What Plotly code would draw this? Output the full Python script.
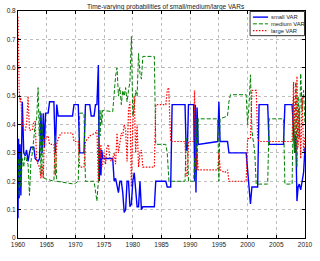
import plotly.graph_objects as go

# ---- data (decimal year, probability) ----
small_pts = [
    (1960.0, 0.07), (1960.1, 0.35), (1960.2, 0.14), (1960.35, 0.33), (1960.5, 0.15),
    (1960.6, 0.30), (1960.75, 0.48), (1961.0, 0.30), (1961.25, 0.29), (1961.5, 0.31),
    (1961.75, 0.27), (1962.0, 0.30), (1962.25, 0.32), (1962.75, 0.32), (1963.0, 0.28),
    (1963.5, 0.27), (1963.75, 0.28), (1964.0, 0.44), (1964.2, 0.30), (1964.4, 0.44),
    (1964.6, 0.32), (1964.8, 0.44), (1965.25, 0.44), (1965.5, 0.48), (1966.25, 0.48),
    (1966.5, 0.30), (1966.75, 0.47), (1967.0, 0.43), (1969.5, 0.43), (1969.75, 0.47),
    (1970.5, 0.47), (1970.75, 0.30), (1971.5, 0.30), (1971.75, 0.47), (1972.5, 0.47),
    (1972.75, 0.43), (1973.25, 0.43), (1973.5, 0.47), (1973.75, 0.47), (1974.0, 0.61),
    (1974.15, 0.20), (1974.3, 0.31), (1974.45, 0.22), (1974.6, 0.31), (1974.75, 0.28),
    (1976.5, 0.28), (1976.75, 0.20), (1977.0, 0.21), (1977.25, 0.19), (1977.5, 0.16),
    (1977.75, 0.20), (1978.0, 0.20), (1978.25, 0.16), (1978.5, 0.09), (1978.75, 0.10),
    (1979.0, 0.20), (1979.25, 0.20), (1979.5, 0.11), (1979.75, 0.12), (1980.0, 0.20),
    (1980.25, 0.23), (1980.5, 0.16), (1980.75, 0.11), (1981.0, 0.11), (1981.25, 0.20),
    (1981.5, 0.10), (1981.75, 0.11), (1983.75, 0.11), (1984.0, 0.20), (1985.75, 0.20),
    (1986.0, 0.18), (1986.6, 0.18), (1986.85, 0.47), (1989.1, 0.47), (1989.3, 0.31),
    (1989.5, 0.31), (1989.7, 0.47), (1990.6, 0.47), (1990.8, 0.20), (1990.9, 0.47),
    (1991.0, 0.16), (1991.2, 0.46), (1991.4, 0.33), (1994.8, 0.34), (1995.0, 0.48),
    (1995.2, 0.34), (1996.5, 0.34), (1996.75, 0.30), (1999.75, 0.30), (2000.0, 0.24),
    (2000.25, 0.18), (2000.5, 0.12), (2000.75, 0.18), (2001.75, 0.18), (2002.0, 0.47),
    (2003.5, 0.47), (2003.75, 0.33), (2006.25, 0.33), (2006.5, 0.47), (2007.75, 0.47),
    (2008.0, 0.38), (2008.2, 0.30), (2008.4, 0.36), (2008.6, 0.13), (2008.8, 0.18),
    (2009.0, 0.19), (2009.25, 0.17), (2009.5, 0.20), (2009.75, 0.23), (2010.0, 0.32),
]

medium_pts = [
    (1960.0, 0.20), (1960.1, 0.28), (1960.2, 0.15), (1960.35, 0.30), (1960.5, 0.18),
    (1960.75, 0.28), (1961.0, 0.25), (1961.25, 0.30), (1961.5, 0.27), (1961.75, 0.26),
    (1962.0, 0.15), (1962.25, 0.27), (1962.5, 0.30), (1962.75, 0.35), (1963.0, 0.40),
    (1963.25, 0.42), (1963.5, 0.53), (1963.7, 0.36), (1963.85, 0.45), (1964.0, 0.22),
    (1964.2, 0.40), (1964.4, 0.22), (1964.6, 0.21), (1966.25, 0.20), (1966.5, 0.36),
    (1966.75, 0.20), (1969.75, 0.19), (1970.5, 0.20), (1970.75, 0.44), (1971.5, 0.44),
    (1971.75, 0.20), (1973.25, 0.20), (1973.5, 0.16), (1973.75, 0.13), (1974.0, 0.20),
    (1974.15, 0.45), (1974.3, 0.36), (1974.45, 0.45), (1974.6, 0.40), (1974.75, 0.45),
    (1976.5, 0.445), (1976.75, 0.52), (1977.0, 0.57), (1977.25, 0.60), (1977.5, 0.50),
    (1977.75, 0.53), (1978.0, 0.47), (1978.25, 0.52), (1978.5, 0.50), (1978.75, 0.53),
    (1979.0, 0.48), (1979.25, 0.52), (1979.5, 0.55), (1979.75, 0.71), (1980.0, 0.43),
    (1980.25, 0.46), (1980.5, 0.52), (1980.75, 0.50), (1981.0, 0.65), (1981.25, 0.58),
    (1981.5, 0.56), (1981.75, 0.64), (1983.75, 0.64), (1984.0, 0.33), (1985.75, 0.33),
    (1986.0, 0.30), (1986.3, 0.20), (1989.1, 0.20), (1989.3, 0.35), (1989.5, 0.35),
    (1989.7, 0.20), (1990.6, 0.20), (1990.75, 0.28), (1990.9, 0.20), (1991.0, 0.42),
    (1991.2, 0.24), (1991.4, 0.42), (1994.8, 0.42), (1995.0, 0.20), (1995.2, 0.42),
    (1996.5, 0.43), (1996.75, 0.48), (1997.0, 0.505), (1999.75, 0.505), (2000.0, 0.40),
    (2000.25, 0.47), (2000.5, 0.575), (2000.75, 0.38), (2001.0, 0.33), (2001.25, 0.30),
    (2001.5, 0.19), (2003.5, 0.19), (2003.75, 0.42), (2006.25, 0.42), (2006.5, 0.19),
    (2007.75, 0.19), (2008.0, 0.50), (2008.2, 0.30), (2008.4, 0.55), (2008.6, 0.25),
    (2008.8, 0.50), (2009.0, 0.35), (2009.25, 0.58), (2009.5, 0.45), (2009.75, 0.52),
    (2010.0, 0.40),
]

large_pts = [
    (1960.0, 0.78), (1960.1, 0.60), (1960.2, 0.52), (1960.35, 0.48), (1960.5, 0.50),
    (1960.6, 0.45), (1960.75, 0.40), (1961.0, 0.38), (1961.25, 0.38), (1961.5, 0.40),
    (1961.75, 0.50), (1962.0, 0.38), (1962.5, 0.38), (1962.75, 0.41), (1963.0, 0.41),
    (1963.25, 0.27), (1963.75, 0.25), (1964.0, 0.21), (1964.2, 0.26), (1964.4, 0.21),
    (1964.6, 0.35), (1965.25, 0.36), (1965.5, 0.33), (1966.25, 0.33), (1966.5, 0.22),
    (1966.75, 0.33), (1967.0, 0.35), (1967.5, 0.37), (1969.5, 0.37), (1969.75, 0.34),
    (1970.5, 0.34), (1970.75, 0.25), (1971.5, 0.25), (1971.75, 0.34), (1972.5, 0.36),
    (1973.5, 0.37), (1973.75, 0.38), (1974.0, 0.20), (1974.15, 0.35), (1974.3, 0.28),
    (1974.45, 0.33), (1974.6, 0.25), (1974.75, 0.26), (1975.0, 0.30), (1975.25, 0.26),
    (1975.5, 0.32), (1975.75, 0.33), (1976.0, 0.28), (1976.25, 0.27), (1976.5, 0.28),
    (1976.75, 0.30), (1977.0, 0.26), (1977.25, 0.37), (1977.5, 0.30), (1977.75, 0.33),
    (1978.0, 0.37), (1978.25, 0.36), (1978.5, 0.40), (1978.75, 0.38), (1979.0, 0.27),
    (1979.25, 0.45), (1979.5, 0.48), (1979.75, 0.18), (1980.0, 0.40), (1980.25, 0.50),
    (1980.5, 0.30), (1980.75, 0.40), (1981.0, 0.25), (1981.25, 0.30), (1981.5, 0.31),
    (1981.75, 0.25), (1983.75, 0.25), (1984.0, 0.47), (1985.75, 0.47), (1986.0, 0.52),
    (1986.25, 0.53), (1986.6, 0.34), (1989.1, 0.34), (1989.3, 0.22), (1989.5, 0.22),
    (1989.7, 0.34), (1990.6, 0.34), (1990.75, 0.52), (1990.9, 0.34), (1991.0, 0.24),
    (1991.2, 0.30), (1991.4, 0.24), (1994.8, 0.24), (1995.0, 0.30), (1995.25, 0.24),
    (1996.0, 0.23), (1996.5, 0.24), (1996.75, 0.20), (1999.75, 0.20), (2000.0, 0.35),
    (2000.5, 0.35), (2000.75, 0.52), (2001.5, 0.52), (2001.75, 0.35), (2002.0, 0.34),
    (2007.75, 0.34), (2008.0, 0.55), (2008.2, 0.40), (2008.4, 0.30), (2008.6, 0.57),
    (2008.8, 0.32), (2009.0, 0.46), (2009.25, 0.28), (2009.5, 0.50), (2009.75, 0.30),
    (2010.0, 0.36),
]

series_names = ["small VAR", "medium VAR", "large VAR"]
x_ticks = [1960, 1965, 1970, 1975, 1980, 1985, 1990, 1995, 2000, 2005, 2010]
y_ticks = [0, 0.1, 0.2, 0.3, 0.4, 0.5, 0.6, 0.7, 0.8]
y_tick_labels = ["0", "0.1", "0.2", "0.3", "0.4", "0.5", "0.6", "0.7", "0.8"]
title_text = "Time-varying probabilities of small/medium/large VARs"

# ---- styles ----
styles = [
    dict(color="#0000ff", width=1.4, dash="solid"),
    dict(color="#008000", width=1.0, dash="4px,2px"),
    dict(color="#ff0000", width=1.2, dash="1.5px,1.5px"),
]
FONT = "Liberation Sans, Arial, sans-serif"

fig = go.Figure()
for name, pts, st in zip(series_names, [small_pts, medium_pts, large_pts], styles):
    fig.add_trace(go.Scatter(
        x=[p[0] for p in pts], y=[p[1] for p in pts], mode="lines", name=name,
        line=dict(color=st["color"], width=st["width"], dash=st["dash"]),
    ))

axis_common = dict(
    showline=True, linecolor="black", linewidth=1, mirror="ticks",
    ticks="inside", ticklen=3, tickcolor="black", tickwidth=0.8,
    showgrid=True, gridcolor="#bdbdbd", gridwidth=0.7, griddash="dot",
    zeroline=False, tickfont=dict(family=FONT, size=6.5, color="#222"),
)
fig.update_xaxes(range=[1960, 2010], tickvals=x_ticks,
                 ticktext=[str(v) for v in x_ticks], **axis_common)
fig.update_yaxes(range=[0, 0.8], tickvals=y_ticks, ticktext=y_tick_labels, **axis_common)

# ---- custom legend (matlab style) ----
L = 10; R = 313; T = 8; B = 238
def px(xp): return (xp - L) / (R - L)
def py(yp): return (B - yp) / (B - T)

shapes = [dict(type="rect", xref="paper", yref="paper",
               x0=px(255), x1=px(312.5), y0=py(33), y1=py(8.5),
               line=dict(color="black", width=0.8), fillcolor="white", layer="above")]
annotations = []
rows = [14.2, 21.0, 27.8]
for name, st, r in zip(series_names, styles, rows):
    shapes.append(dict(type="line", xref="paper", yref="paper",
                       x0=px(258), x1=px(274), y0=py(r), y1=py(r),
                       line=dict(color=st["color"], width=st["width"], dash=st["dash"]),
                       layer="above"))
    annotations.append(dict(xref="paper", yref="paper", x=px(275), y=py(r),
                            xanchor="left", yanchor="middle", showarrow=False,
                            text=name, font=dict(family=FONT, size=5.8, color="#222")))
annotations.append(dict(xref="paper", yref="paper", x=px(166), y=py(3.5),
                        xanchor="center", yanchor="middle", showarrow=False,
                        text=title_text, font=dict(family=FONT, size=6.5, color="#222")))

fig.update_layout(
    width=320, height=261, margin=dict(l=10, r=7, t=8, b=23),
    plot_bgcolor="white", paper_bgcolor="white", showlegend=False,
    shapes=shapes, annotations=annotations,
)

fig.write_html("out.html")
